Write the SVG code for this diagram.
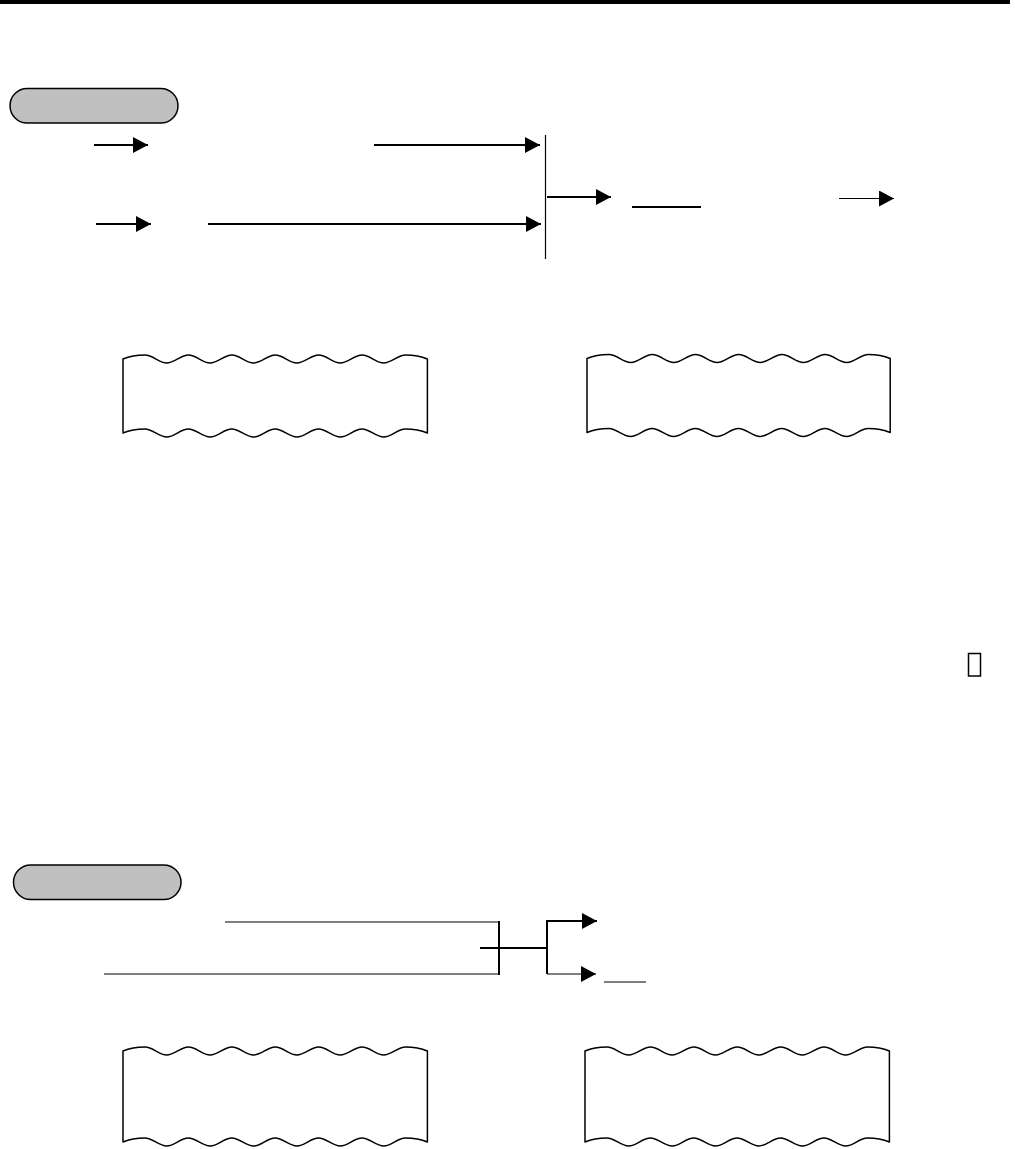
<svg xmlns="http://www.w3.org/2000/svg" width="1015" height="1149" viewBox="0 0 1015 1149">
  <style>
    .pill { fill: #c0c0c0; stroke: #000; stroke-width: 1.5; }
    .paper { fill: #fff; stroke: #000; stroke-width: 1.5; stroke-linejoin: round; }
    .ln { fill: none; stroke: #000; stroke-width: 2; }
    .thin { fill: none; stroke: #000; stroke-width: 1.2; }
    .arr { marker-end: url(#head); }
  </style>
  <defs>
    <marker id="head" viewBox="0 0 15 16" markerWidth="15" markerHeight="16" refX="15" refY="8" orient="auto" markerUnits="userSpaceOnUse">
      <path d="M0,0 L15,8 L0,16 Z" fill="#000"/>
    </marker>
  </defs>
  <rect x="0" y="0" width="1010" height="4" fill="#000"/>

  <g id="pill-1"><rect class="pill" x="10" y="88.5" width="168" height="34.5" rx="17.25"/></g>
  <g id="pill-2"><rect class="pill" x="13.5" y="865" width="167.5" height="34.5" rx="17.25"/></g>

  <g id="receipt-1">
    <path class="paper" d="M123,359 c7,-3 15,-4 22,-4 c8,0 14,8 21.7,8 c8,0 14,-8 21.7,-8 c8,0 14,8 21.7,8 c8,0 14,-8 21.7,-8 c8,0 14,8 21.7,8 c8,0 14,-8 21.7,-8 c8,0 14,8 21.7,8 c8,0 14,-8 21.7,-8 c8,0 14,8 21.7,8 c8,0 14,-8 21.7,-8 c8,0 14,8 21.7,8 c8,0 14,-8 21.7,-8 c7,0 15,1 22,4 L427.4,433 c-7,-3 -15,-4 -22,-4 c-8,0 -14,8 -21.7,8 c-8,0 -14,-8 -21.7,-8 c-8,0 -14,8 -21.7,8 c-8,0 -14,-8 -21.7,-8 c-8,0 -14,8 -21.7,8 c-8,0 -14,-8 -21.7,-8 c-8,0 -14,8 -21.7,8 c-8,0 -14,-8 -21.7,-8 c-8,0 -14,8 -21.7,8 c-8,0 -14,-8 -21.7,-8 c-8,0 -14,8 -21.7,8 c-8,0 -14,-8 -21.7,-8 c-7,0 -15,1 -22,4 Z"/>
  </g>
  <g id="receipt-2">
    <path class="paper" d="M587,358.5 c7,-3 15,-4 22,-4 c8,0 14,8 21.6,8 c8,0 14,-8 21.6,-8 c8,0 14,8 21.6,8 c8,0 14,-8 21.6,-8 c8,0 14,8 21.6,8 c8,0 14,-8 21.6,-8 c8,0 14,8 21.6,8 c8,0 14,-8 21.6,-8 c8,0 14,8 21.6,8 c8,0 14,-8 21.6,-8 c8,0 14,8 21.6,8 c8,0 14,-8 21.6,-8 c7,0 15,1 22,4 L890.2,432.5 c-7,-3 -15,-4 -22,-4 c-8,0 -14,8 -21.6,8 c-8,0 -14,-8 -21.6,-8 c-8,0 -14,8 -21.6,8 c-8,0 -14,-8 -21.6,-8 c-8,0 -14,8 -21.6,8 c-8,0 -14,-8 -21.6,-8 c-8,0 -14,8 -21.6,8 c-8,0 -14,-8 -21.6,-8 c-8,0 -14,8 -21.6,8 c-8,0 -14,-8 -21.6,-8 c-8,0 -14,8 -21.6,8 c-8,0 -14,-8 -21.6,-8 c-7,0 -15,1 -22,4 Z"/>
  </g>
  <g id="receipt-3">
    <path class="paper" d="M123,1051 c7,-3 15,-4 22,-4 c8,0 14,8 21.7,8 c8,0 14,-8 21.7,-8 c8,0 14,8 21.7,8 c8,0 14,-8 21.7,-8 c8,0 14,8 21.7,8 c8,0 14,-8 21.7,-8 c8,0 14,8 21.7,8 c8,0 14,-8 21.7,-8 c8,0 14,8 21.7,8 c8,0 14,-8 21.7,-8 c8,0 14,8 21.7,8 c8,0 14,-8 21.7,-8 c7,0 15,1 22,4 L427.4,1142 c-7,-3 -15,-4 -22,-4 c-8,0 -14,8 -21.7,8 c-8,0 -14,-8 -21.7,-8 c-8,0 -14,8 -21.7,8 c-8,0 -14,-8 -21.7,-8 c-8,0 -14,8 -21.7,8 c-8,0 -14,-8 -21.7,-8 c-8,0 -14,8 -21.7,8 c-8,0 -14,-8 -21.7,-8 c-8,0 -14,8 -21.7,8 c-8,0 -14,-8 -21.7,-8 c-8,0 -14,8 -21.7,8 c-8,0 -14,-8 -21.7,-8 c-7,0 -15,1 -22,4 Z"/>
  </g>
  <g id="receipt-4">
    <path class="paper" d="M585,1051 c7,-3 15,-4 22,-4 c8,0 14,8 21.7,8 c8,0 14,-8 21.7,-8 c8,0 14,8 21.7,8 c8,0 14,-8 21.7,-8 c8,0 14,8 21.7,8 c8,0 14,-8 21.7,-8 c8,0 14,8 21.7,8 c8,0 14,-8 21.7,-8 c8,0 14,8 21.7,8 c8,0 14,-8 21.7,-8 c8,0 14,8 21.7,8 c8,0 14,-8 21.7,-8 c7,0 15,1 22,4 L889.4,1142 c-7,-3 -15,-4 -22,-4 c-8,0 -14,8 -21.7,8 c-8,0 -14,-8 -21.7,-8 c-8,0 -14,8 -21.7,8 c-8,0 -14,-8 -21.7,-8 c-8,0 -14,8 -21.7,8 c-8,0 -14,-8 -21.7,-8 c-8,0 -14,8 -21.7,8 c-8,0 -14,-8 -21.7,-8 c-8,0 -14,8 -21.7,8 c-8,0 -14,-8 -21.7,-8 c-8,0 -14,8 -21.7,8 c-8,0 -14,-8 -21.7,-8 c-7,0 -15,1 -22,4 Z"/>
  </g>
  <g id="box-small"><rect x="968.5" y="653.5" width="12" height="22.5" fill="none" stroke="#000" stroke-width="1.5"/></g>

  <g id="connectors">
    <line class="ln arr" x1="94" y1="145" x2="148" y2="145"/>
    <line class="ln arr" x1="374" y1="145" x2="540" y2="145"/>
    <line class="ln arr" x1="96" y1="224" x2="151" y2="224"/>
    <line class="ln arr" x1="208" y1="224" x2="541" y2="224"/>
    <line class="thin" x1="545.5" y1="135" x2="545.5" y2="259"/>
    <line class="ln arr" x1="547" y1="197" x2="611" y2="197"/>
    <line class="ln" x1="632" y1="207" x2="701" y2="207"/>
    <line class="thin arr" x1="839" y1="198.5" x2="894" y2="198.5"/>

    <line class="thin" x1="225" y1="922" x2="499" y2="922"/>
    <line class="thin" x1="104" y1="974" x2="499" y2="974"/>
    <line class="ln" x1="499" y1="921" x2="499" y2="975"/>
    <line class="ln" x1="480" y1="948" x2="547" y2="948"/>
    <polyline class="ln arr" points="547,974 547,921 597,921"/>
    <line class="thin arr" x1="547" y1="974" x2="596" y2="974"/>
    <line class="thin" x1="604" y1="982" x2="646" y2="982"/>
  </g>
</svg>
